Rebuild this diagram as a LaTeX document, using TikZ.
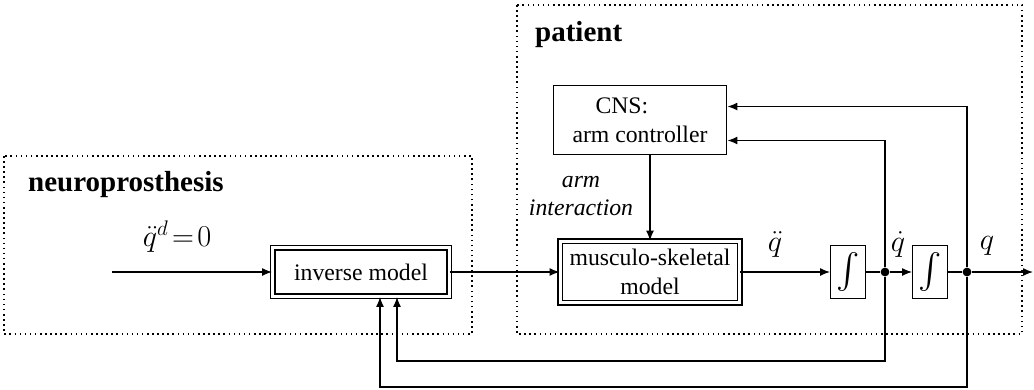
\documentclass[tikz,border=0pt]{standalone}
\usepackage{fontspec}
\setmainfont{Liberation Serif}
\usepackage{tikz}
\usetikzlibrary{calc}
\usetikzlibrary{arrows.meta,positioning}
\usepackage{amsmath,amssymb}

\tikzset{
  blk/.style={draw,line width=0.8pt,inner sep=2pt,align=center,font=\fontsize{13.5}{16.5}\selectfont},
  dblk/.style={blk,double,double distance=1.6pt},
  intg/.style={draw,line width=0.8pt,inner sep=0pt,minimum width=0.69cm,minimum height=1.05cm,font=\fontsize{20}{22}\selectfont},
  sig/.style={line width=0.8pt,-{Latex[length=2mm,width=1.6mm]}},
  wire/.style={line width=0.8pt},
  area/.style={draw,dotted,line width=0.9pt},
  lbl/.style={inner sep=1pt,font=\fontsize{17}{19}\selectfont},
  ttl/.style={anchor=west,font=\fontsize{16.5}{19}\selectfont\bfseries},
  junct/.style={circle,fill,inner sep=0pt,minimum size=5pt}
}

\begin{document}
\begin{tikzpicture}[x=0.02cm,y=-0.02cm]
  \useasboundingbox (0,0) rectangle (1034,389);
  \draw[area] (4,156) rectangle (472,334);
  \draw[area] (517,5) rectangle (1022,334);
  \node[ttl] (np) at (22,185) {neuroprosthesis};
  \node[ttl] (pt) at (529,35) {patient};

  \node[dblk,minimum width=3.53cm,minimum height=0.97cm] (inv) at (361,272) {inverse model};
  \node[dblk,minimum width=3.59cm,minimum height=1.23cm] (msk) at (650,272) {musculo-skeletal\\model};
  \node[blk,minimum width=3.47cm,minimum height=1.39cm] (cns) at (640,120) {\makebox[1.78cm][l]{CNS:}\\arm controller};
  \node[intg] (int1) at (848,272) {$\int$};
  \node[intg] (int2) at (930,272) {$\int$};
  \node[junct] (d1) at (885,272) {};
  \node[junct] (d2) at (967,272) {};
  \coordinate (in) at (112,272);
  \coordinate (out) at (1033,272);

  \node[lbl] (qdd0) at (177,237) {$\ddot{q}^{d}\!=\!0$};
  \node[lbl] (qdd) at (775,244) {$\ddot{q}$};
  \node[lbl] (qd) at (898,244) {$\dot{q}$};
  \node[lbl] (q) at (987,246) {$q$};
  \node[lbl,font=\fontsize{13.5}{16}\selectfont\itshape,align=center] (ai) at (581,196) {arm\\interaction};

  \draw[sig] (in) -- (inv);
  \draw[sig] (inv) -- (msk);
  \draw[sig] (msk) -- (int1);
  \draw[wire] (int1) -- (d1);
  \draw[sig] (d1) -- (int2);
  \draw[wire] (int2) -- (d2);
  \draw[sig] (d2) -- (out);
  \draw[sig] (msk.north |- cns.south) -- (msk.north);
  \draw[sig] (d2) |- ([yshift=0.27cm]cns.east);
  \draw[sig] (d1) |- ([yshift=-0.41cm]cns.east);
  \draw[sig] (d1) -- ++(0,89) -| ([xshift=0.72cm]inv.south);
  \draw[sig] (d2) -- ++(0,115) -| ([xshift=0.38cm]inv.south);
\end{tikzpicture}
\end{document}
